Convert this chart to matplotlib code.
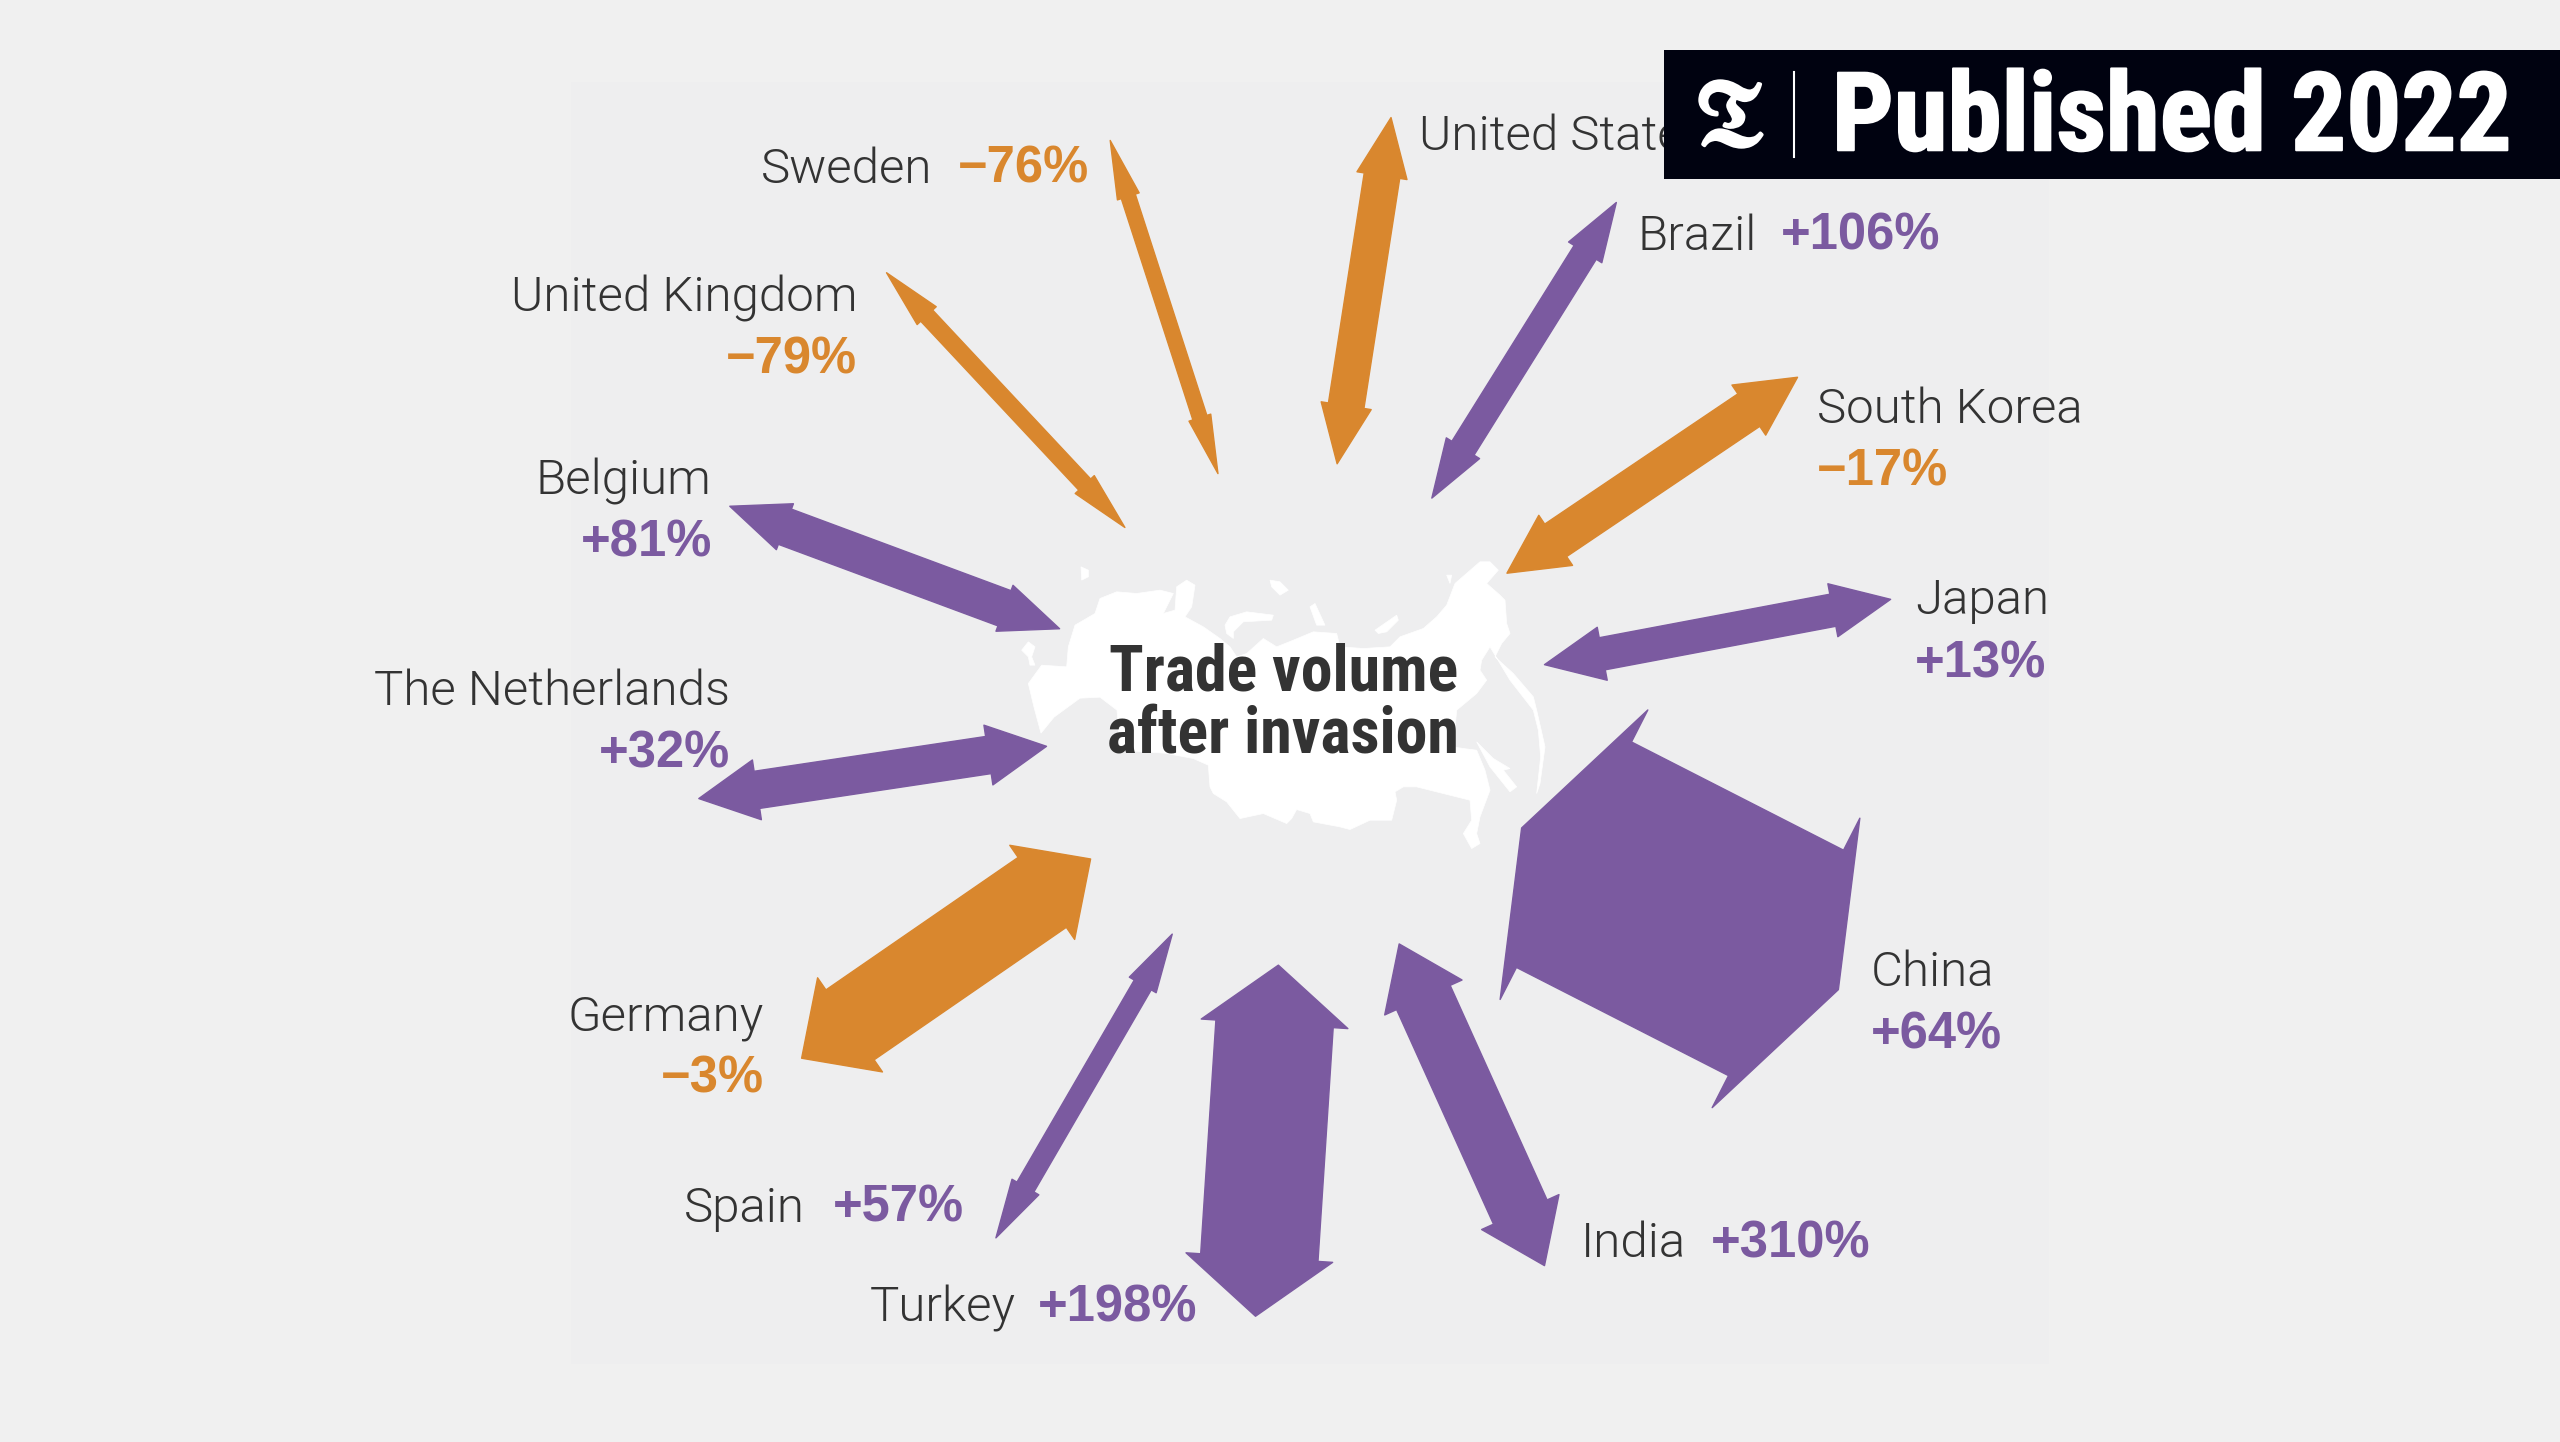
import numpy as np
import matplotlib
matplotlib.use("Agg")
import matplotlib.pyplot as plt
import matplotlib.patheffects as pe
from matplotlib.patches import Polygon, Rectangle

# data
countries = ["Sweden", "United Kingdom", "United States", "Brazil", "South Korea", "Japan",
             "China", "India", "Turkey", "Spain", "Germany", "The Netherlands", "Belgium"]
changes = [-76, -79, None, 106, -17, 13, 64, 310, 198, 57, -3, 32, 81]
volumes = [9, 10, 22, 16, 24, 20, 155, 36, 72, 12, 52, 23, 23]
US_SIGN = -1

# arrow layout in axes units: outer/inner tips and head widths
tips_a = [(680, 86), (543, 167), (852, 72), (990, 124), (1101, 231), (1158, 367), (1126, 606),
          (946, 775), (769, 806), (610, 758), (491, 648), (428, 489), (447, 310)]
tips_b = [(746, 290), (689, 323), (819, 284), (877, 305), (923, 351), (946, 407), (932, 507),
          (857, 578), (783, 591), (718, 572), (668, 526), (641, 457), (649, 385)]
head_w = [14, 16, 31, 24, 37, 33, 199, 52, 90, 19, 70, 37, 30]
HEAD_LEN = 36

# label layout: name x, name y, name align, value x, value y, value align
label_pos = [
    (466, 112, "left", 667, 112, "right"),
    (525, 191, "right", 525, 229, "right"),
    (869, 92, "left", None, None, None),
    (1003, 153, "left", 1091, 153, "left"),
    (1113, 259, "left", 1113, 297, "left"),
    (1173, 376, "left", 1173, 415, "left"),
    (1146, 604, "left", 1146, 642, "left"),
    (968, 770, "left", 1048, 770, "left"),
    (533, 809, "left", 636, 809, "left"),
    (419, 748, "left", 510, 748, "left"),
    (468, 631, "right", 468, 669, "right"),
    (447, 432, "right", 447, 470, "right"),
    (436, 303, "right", 436, 341, "right"),
]

PURPLE = "#7b5aa0"
ORANGE = "#d9872e"
INK = "#333333"
W, H = 1568, 883
S = 2560 / W

def trace(origin, pts):
    return (np.array(origin) + np.array(pts, dtype=float) / 3) / S

map_main = np.vstack([
    trace((1000, 550), [(85, 400), (125, 345), (200, 350), (205, 290), (225, 225), (285, 190), (300, 145),
                        (350, 125), (410, 130), (480, 120), (520, 130), (490, 190), (525, 180), (530, 110),
                        (560, 90), (585, 105), (575, 170), (555, 200), (610, 230), (660, 265), (690, 290),
                        (710, 320), (740, 310), (790, 265), (830, 290)]),
    trace((1250, 550), [(130, 270), (190, 245), (260, 250), (270, 290), (340, 295), (420, 290), (450, 260),
                        (520, 235), (560, 200), (590, 165), (615, 100), (690, 35), (720, 35), (745, 60),
                        (710, 100), (750, 135), (765, 150), (770, 220), (780, 250), (755, 280), (745, 300),
                        (735, 320), (790, 370), (850, 440), (860, 480), (885, 590), (870, 700), (860, 730),
                        (872, 620), (865, 540), (850, 480), (780, 390), (720, 290), (695, 330), (690, 360),
                        (710, 390), (680, 430), (620, 480), (610, 590), (640, 595), (680, 600), (705, 660),
                        (720, 720), (690, 800), (680, 850), (690, 880), (665, 895), (640, 850), (665, 810),
                        (660, 750)]),
    trace((1150, 730), [(800, 170), (760, 170), (735, 185), (740, 210), (725, 270), (660, 270), (600, 298),
                        (570, 290), (490, 275), (480, 250), (440, 238), (425, 265), (410, 280), (340, 250),
                        (270, 265), (230, 215), (190, 190), (180, 170), (175, 105), (130, 85)]),
    np.array([(1165, 753), (1120, 750), (1117, 710), (1100, 697), (1080, 698), (1054, 717),
              (1041, 733), (1034, 707)], dtype=float) / S,
])
map_bits = [
    trace((1000, 550), [(65, 300), (85, 275), (105, 290), (95, 320), (105, 345), (90, 345), (85, 320)]),
    trace((1000, 550), [(243, 50), (265, 60), (265, 80), (245, 90)]),
    trace((1000, 550), [(675, 225), (690, 200), (740, 185), (820, 195), (815, 210), (730, 215), (700, 245),
                        (700, 265), (680, 250)]),
    trace((1000, 550), [(810, 90), (840, 95), (865, 120), (840, 135), (815, 110)]),
    trace((1250, 550), [(375, 240), (440, 195), (445, 210), (410, 245), (385, 250)]),
    trace((1250, 550), [(180, 170), (195, 160), (225, 225), (200, 225)]),
    trace((1250, 550), [(590, 75), (605, 75), (600, 100)]),
    trace((1250, 550), [(680, 575), (730, 625), (780, 655), (760, 660), (800, 710), (780, 725), (720, 650)]),
]


def arrow_outline(a, b, shaft, head):
    a, b = np.array(a, float), np.array(b, float)
    u = (b - a) / np.linalg.norm(b - a)
    n = np.array([-u[1], u[0]])
    pts = [a,
           a + u * HEAD_LEN + n * head / 2, a + u * HEAD_LEN + n * shaft / 2,
           b - u * HEAD_LEN + n * shaft / 2, b - u * HEAD_LEN + n * head / 2,
           b,
           b - u * HEAD_LEN - n * head / 2, b - u * HEAD_LEN - n * shaft / 2,
           a + u * HEAD_LEN - n * shaft / 2, a + u * HEAD_LEN - n * head / 2]
    return np.array(pts)


def format_change(v):
    return f"{'+' if v > 0 else '\u2212'}{abs(v)}%"


fig = plt.figure(figsize=(25.6, 14.42), dpi=100, facecolor="#f0f0f0")
ax = fig.add_axes([0, 0, 1, 1])
ax.set_xlim(0, W)
ax.set_ylim(H, 0)
ax.axis("off")

# faint panel behind the chart
ax.add_patch(Rectangle((350, 50), 905, 785, fc="#eeeeef", ec="none", zorder=0))

ax.add_patch(Polygon(map_main, fc="white", ec="white", lw=0.5, zorder=1))
for part in map_bits:
    ax.add_patch(Polygon(part, fc="white", ec="white", lw=0.5, zorder=1))

light = ["Roboto"]
value_font = ["Liberation Sans"]
bold = ["Roboto Condensed"]

for i, name in enumerate(countries):
    sign = changes[i] if changes[i] is not None else US_SIGN
    color = PURPLE if sign > 0 else ORANGE
    ax.add_patch(Polygon(arrow_outline(tips_a[i], tips_b[i], volumes[i], head_w[i]), fc=color, ec=color,
                         lw=1.0, joinstyle="round", zorder=2))
    nx, ny, na, vx, vy, va = label_pos[i]
    ax.text(nx, ny, name, family=light, weight=300, fontsize=35.5, color=INK, ha=na, va="baseline", zorder=3)
    if changes[i] is not None:
        ax.text(vx, vy, format_change(changes[i]), family=value_font, weight="bold", fontsize=36.5, color=color,
                ha=va, va="baseline", zorder=3)

ax.text(786, 423, "Trade volume", family=bold, weight="bold", fontsize=46, color=INK, ha="center",
        va="baseline", zorder=3)
ax.text(786, 461, "after invasion", family=bold, weight="bold", fontsize=46, color=INK, ha="center",
        va="baseline", zorder=3)

# publication banner
ax.add_patch(Rectangle((1019, 30.5), W - 1019, 79, fc="#000210", ec="none", zorder=5))
plt.rcParams["mathtext.fontset"] = "stix"
t = ax.text(1059.5, 73, r"$\mathfrak{T}$", fontsize=66, color="white", ha="center", va="center", zorder=6)
t.set_path_effects([pe.withStroke(linewidth=2.5, foreground="white")])
ax.plot([1099, 1099], [44, 96], color="white", lw=1.5, zorder=6)
pub = ax.text(1122, 92, "Published 2022", family=bold, weight="bold", fontsize=78.5, color="white",
              ha="left", va="baseline", zorder=6)
pub.set_path_effects([pe.withStroke(linewidth=1.5, foreground="white")])

fig.savefig("out.png", dpi=100, facecolor=fig.get_facecolor())
plt.close(fig)
